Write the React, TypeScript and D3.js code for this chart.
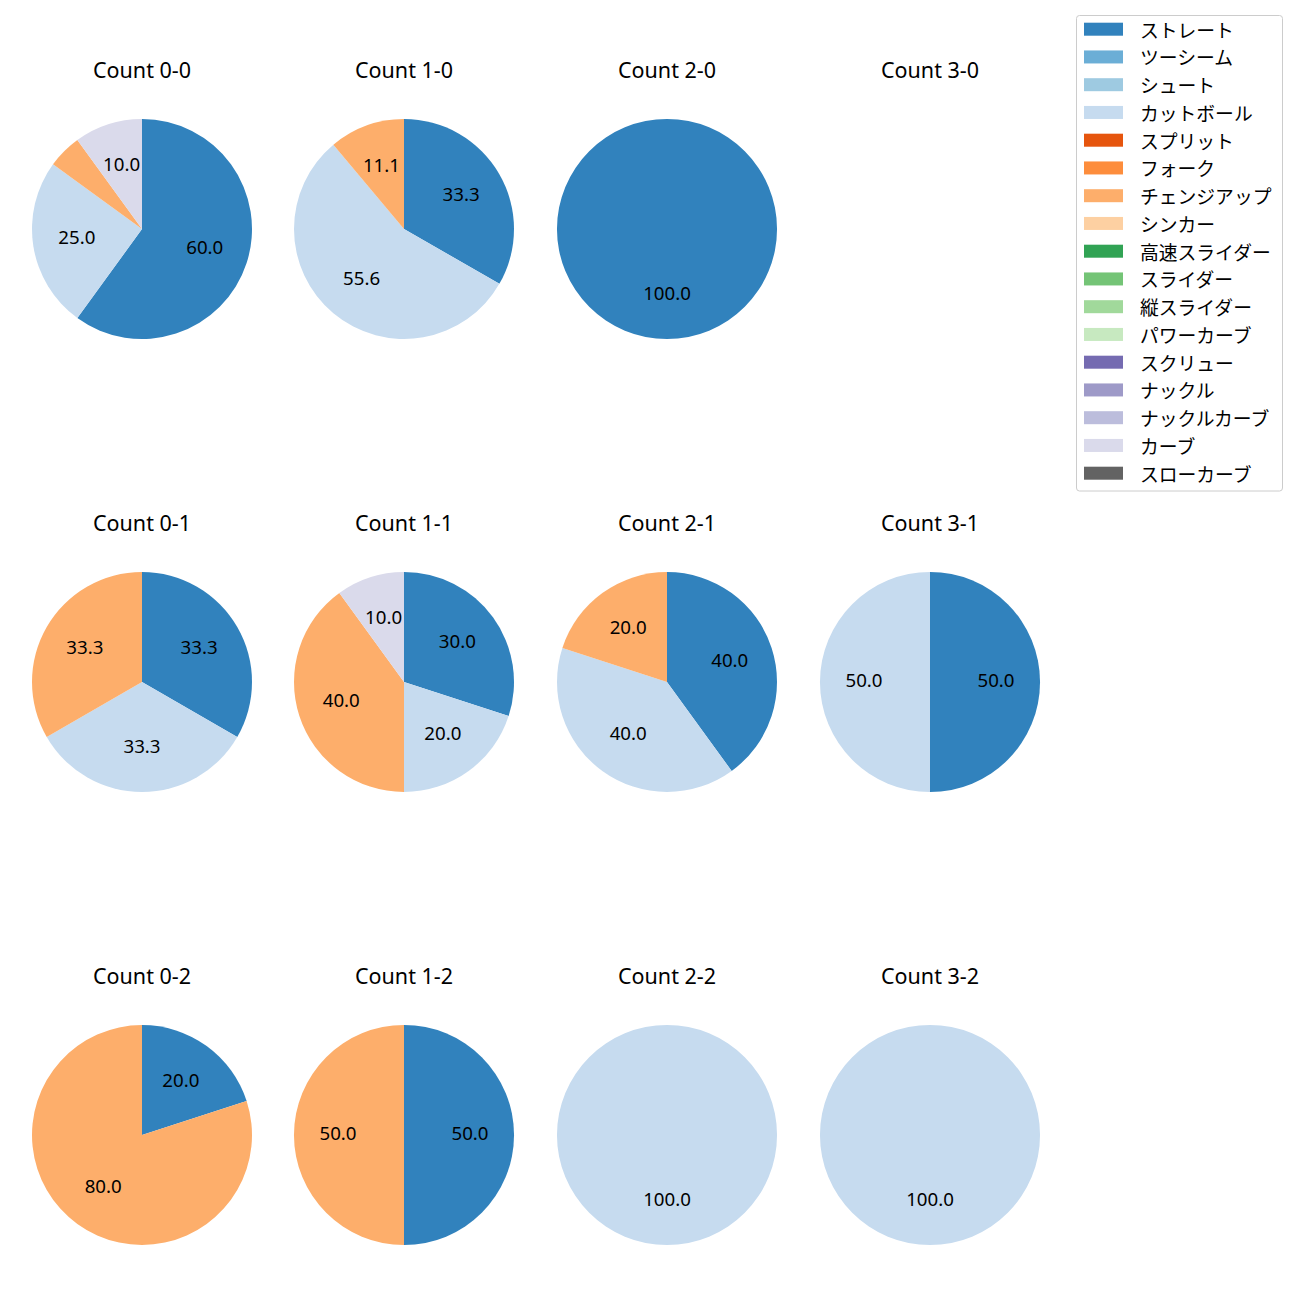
import React from "react";
import * as d3 from "d3";

const pitchTypes = ["ストレート","ツーシーム","シュート","カットボール","スプリット","フォーク","チェンジアップ","シンカー","高速スライダー","スライダー","縦スライダー","パワーカーブ","スクリュー","ナックル","ナックルカーブ","カーブ","スローカーブ"];
const pitchColors = ["#3182bd","#6baed6","#9ecae1","#c6dbef","#e6550d","#fd8d3c","#fdae6b","#fdd0a2","#31a354","#74c476","#a1d99b","#c7e9c0","#756bb1","#9e9ac8","#bcbddc","#dadaeb","#636363"];

const countTitles = ["Count 0-0","Count 1-0","Count 2-0","Count 3-0","Count 0-1","Count 1-1","Count 2-1","Count 3-1","Count 0-2","Count 1-2","Count 2-2","Count 3-2"];
// percent of each pitch type per count (same order as countTitles)
const straightPct = [60, 33.3, 100, 0, 33.3, 30, 40, 50, 20, 50, 0, 0];
const cutballPct = [25, 55.6, 0, 0, 33.3, 20, 40, 50, 0, 0, 100, 100];
const changeupPct = [5, 11.1, 0, 0, 33.3, 40, 20, 0, 80, 50, 0, 0];
const curvePct = [10, 0, 0, 0, 0, 10, 0, 0, 0, 0, 0, 0];

const colX = [142, 404, 667, 930];
const rowY = [229, 682, 1135];
const R = 110;

export default function App() {
  const seriesByType: Record<string, number[]> = {
    "ストレート": straightPct,
    "カットボール": cutballPct,
    "チェンジアップ": changeupPct,
    "カーブ": curvePct,
  };
  const color = d3.scaleOrdinal<string, string>().domain(pitchTypes).range(pitchColors);
  const pie = d3.pie<{ name: string; v: number }>().value((d) => d.v).sort(null).startAngle(0).endAngle(2 * Math.PI);
  const arc = d3.arc<any>().innerRadius(0).outerRadius(R);
  const font = "'Noto Sans', 'Noto Sans CJK JP', sans-serif";
  const jpFont = "'Noto Sans CJK JP', sans-serif";

  return (
    <svg width={1300} height={1300} style={{ display: "block", position: "absolute", left: 0, top: 0 }} fontFamily={font}>
      <rect width={1300} height={1300} fill="white" />
      {countTitles.map((title, i) => {
        const cx = colX[i % 4];
        const cy = rowY[Math.floor(i / 4)];
        const data = pitchTypes
          .map((name) => ({ name, v: seriesByType[name] ? seriesByType[name][i] : 0 }))
          .filter((d) => d.v > 0);
        const arcs = pie(data);
        const total = d3.sum(data, (d) => d.v);
        return (
          <g key={title}>
            <text x={cx} y={cy - 160} textAnchor="middle" dominantBaseline="central" fontSize={21.5}>{title}</text>
            <g transform={`translate(${cx},${cy})`}>
              {arcs.map((a) => (
                <path key={a.data.name} d={arc(a) as string} fill={color(a.data.name)} />
              ))}
              {arcs.map((a) => {
                const pct = (a.data.v / total) * 100;
                if (pct < 6) return null;
                const mid = (a.startAngle + a.endAngle) / 2;
                const x = Math.sin(mid) * R * 0.6;
                const y = -Math.cos(mid) * R * 0.6 - 2.5;
                return (
                  <text key={"t" + a.data.name} x={x} y={y} textAnchor="middle" dominantBaseline="central" fontSize={18.7}>
                    {pct.toFixed(1)}
                  </text>
                );
              })}
            </g>
          </g>
        );
      })}
      <g>
        <rect x={1076.5} y={15.5} width={206} height={475.5} rx={3} fill="white" fillOpacity={0.8} stroke="#cccccc" />
        {pitchTypes.map((name, i) => (
          <g key={name} transform={`translate(0,${29.2 + i * 27.75})`}>
            <rect x={1084} y={-6.5} width={39} height={13} fill={color(name)} />
            <text x={1140} y={0} dominantBaseline="central" fontSize={18.8} fontFamily={jpFont}>{name}</text>
          </g>
        ))}
      </g>
    </svg>
  );
}
